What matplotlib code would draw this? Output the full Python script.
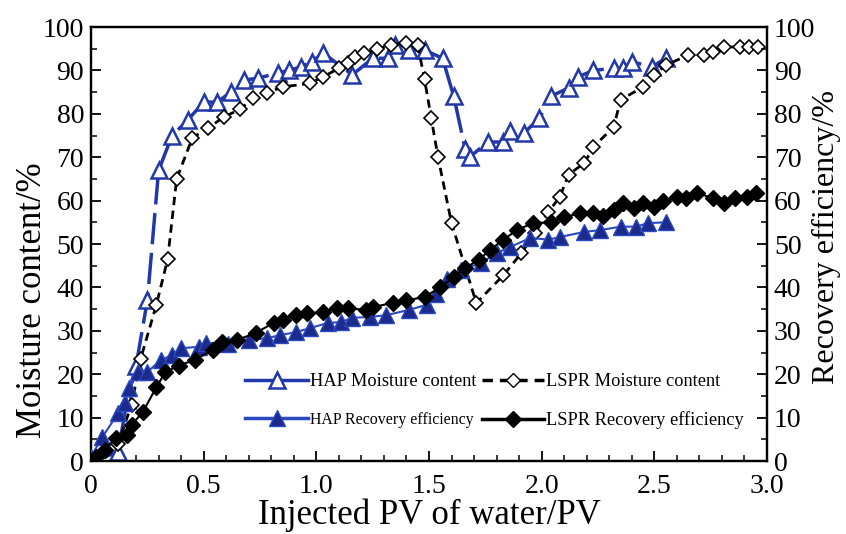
import matplotlib
matplotlib.use('Agg')
import matplotlib.pyplot as plt
from matplotlib.lines import Line2D
from matplotlib.ticker import MultipleLocator

plt.rcParams['font.family'] = ['Liberation Serif', 'DejaVu Serif']

# HAP moisture content (open triangles)
hap_mc_x = [0, 0.12, 0.16, 0.20, 0.25, 0.30, 0.36, 0.43, 0.50, 0.56, 0.62, 0.68, 0.74, 0.83, 0.88,
            0.93, 0.98, 1.03, 1.16, 1.25, 1.32, 1.35, 1.41, 1.48, 1.56, 1.61, 1.66, 1.68, 1.76, 1.83,
            1.86, 1.92, 1.99, 2.04, 2.12, 2.16, 2.23, 2.32, 2.36, 2.40, 2.49, 2.55]
hap_mc_y = [0, 2, 14, 22, 37, 67, 75, 78.6, 82.7, 82.7, 85, 87.8, 88.2, 89.4, 90,
            90.8, 92, 94, 89, 92.8, 92.8, 95.8, 94.7, 94.7, 92.8, 84, 72, 70, 73.5, 73.5,
            76, 75.5, 79, 84, 86, 88.5, 90, 90.5, 90.5, 92, 90.8, 92.8]

# LSPR moisture content (open diamonds)
lspr_mc_x = [0, 0.12, 0.18, 0.22, 0.29, 0.34, 0.38, 0.45, 0.52, 0.59, 0.66, 0.72, 0.78, 0.85, 0.97,
             1.03, 1.10, 1.14, 1.17, 1.21, 1.27, 1.33, 1.40, 1.45, 1.48, 1.51, 1.54, 1.60, 1.71, 1.83,
             1.91, 1.97, 2.03, 2.08, 2.12, 2.19, 2.23, 2.32, 2.35, 2.45, 2.50, 2.55, 2.65, 2.72, 2.76,
             2.81, 2.88, 2.92, 2.96]
lspr_mc_y = [0, 4, 13, 23.5, 36, 46.5, 65, 74.5, 76.7, 79.3, 81, 83.6, 84.8, 86.2, 87,
             88.5, 90.5, 91.7, 93, 94, 95, 95.8, 96.3, 95.8, 88, 79, 70, 54.8, 36.4, 42.8,
             47.9, 52.5, 57.4, 60.8, 66, 68.7, 72.4, 77, 83.2, 86.2, 89, 91.2, 93.5, 93.5, 94.2,
             95.4, 95.4, 95.4, 95.4]

# HAP recovery efficiency (filled triangles)
hap_re_x = [0, 0.05, 0.12, 0.15, 0.17, 0.21, 0.25, 0.31, 0.36, 0.40, 0.48, 0.51, 0.61, 0.70, 0.78,
            0.84, 0.91, 0.97, 1.05, 1.11, 1.16, 1.24, 1.31, 1.41, 1.49, 1.53, 1.58, 1.64, 1.73, 1.80,
            1.86, 1.95, 2.03, 2.08, 2.19, 2.26, 2.35, 2.42, 2.47, 2.55]
hap_re_y = [1, 5.5, 11, 13.4, 16.8, 20.5, 20.5, 23.3, 24.4, 26, 26.3, 27.2, 27, 27.9, 28.3,
            29, 29.7, 30.6, 31.8, 32, 33, 33.2, 33.6, 34.8, 36, 38.5, 42, 44, 45.6, 47.9,
            49.3, 51.4, 51, 51.6, 52.8, 53.2, 54, 54, 54.8, 55]

# LSPR recovery efficiency (filled diamonds)
lspr_re_x = [0.02, 0.06, 0.11, 0.16, 0.18, 0.23, 0.29, 0.33, 0.39, 0.46, 0.54, 0.58, 0.65, 0.73, 0.81,
             0.85, 0.91, 0.96, 1.03, 1.09, 1.14, 1.22, 1.25, 1.34, 1.40, 1.48, 1.55, 1.61, 1.66, 1.72,
             1.77, 1.83, 1.89, 1.96, 2.04, 2.10, 2.17, 2.23, 2.27, 2.32, 2.36, 2.41, 2.45, 2.50, 2.54,
             2.60, 2.64, 2.69, 2.76, 2.81, 2.86, 2.91, 2.95]
lspr_re_y = [1, 2.5, 5.3, 6, 8.3, 11.3, 17, 20.5, 22, 23.3, 25.6, 27.4, 27.9, 29.5, 31.8,
             32.5, 33.6, 34, 34.3, 35.2, 35.2, 34.8, 35.5, 36.4, 37, 37.8, 40, 42.4, 44.5, 46.3,
             48.6, 51, 53.2, 54.8, 55, 56.2, 57.1, 57.1, 56.5, 57.8, 59.4, 58.3, 59.4, 58.5, 60,
             60.8, 60.6, 61.7, 60.6, 59.4, 60.6, 60.8, 61.7]

x_ticks = [0, 0.5, 1.0, 1.5, 2.0, 2.5, 3.0]
x_tick_labels = ['0', '0.5', '1.0', '1.5', '2.0', '2.5', '3.0']
y_ticks = list(range(0, 101, 10))

hap_open = '#2238a8'
hap_fill = '#1c2a8c'

fig = plt.figure(figsize=(8.46, 5.34), dpi=100)
ax = fig.add_axes([0.1076, 0.1367, 0.799, 0.8127])
ax2 = ax.twinx()

ax.plot(hap_mc_x, hap_mc_y, color=hap_open, lw=2.5, dashes=(9, 2.5), marker='^', ms=11,
        mfc='white', mec=hap_open, mew=1.8, zorder=3)
ax.plot(lspr_mc_x, lspr_mc_y, color='black', lw=2, dashes=(3, 2), marker='D', ms=7.5,
        mfc='white', mec='black', mew=1.2, zorder=4)
ax2.plot(hap_re_x, hap_re_y, color='#2a48c0', lw=1.5, marker='^', ms=11.5,
         mfc=hap_fill, mec='#2a48c0', mew=1, zorder=3)
ax2.plot(lspr_re_x, lspr_re_y, color='black', lw=1.5, marker='D', ms=8,
         mfc='black', mec='black', zorder=4)

for a in (ax, ax2):
    a.set_ylim(0, 100)
    a.set_yticks(y_ticks)
    a.yaxis.set_minor_locator(MultipleLocator(5))
    a.tick_params(axis='both', which='both', direction='in', labelsize=20)
    a.tick_params(which='major', length=7, width=1.3)
    a.tick_params(which='minor', length=4, width=1.1)
    for s in a.spines.values():
        s.set_linewidth(1.6)

ax.set_xlim(0, 3.0)
ax.set_xticks(x_ticks)
ax.set_xticklabels(x_tick_labels)
ax.xaxis.set_minor_locator(MultipleLocator(0.1))
ax.tick_params(axis='x', pad=9)
ax.tick_params(axis='y', pad=5)
ax2.tick_params(axis='y', pad=5)

ax.set_xlabel('Injected PV of water/PV', fontsize=25, labelpad=0)
ax.set_ylabel('Moisture content/%', fontsize=25)
ax2.set_ylabel('Recovery efficiency/%', fontsize=23)
ax.yaxis.set_label_coords(-0.062, 0.37)
ax2.yaxis.set_label_coords(1.067, 0.516)

handles = [
    Line2D([], [], color=hap_open, lw=2.5, marker='^', ms=11, mfc='white', mec=hap_open, mew=1.8),
    Line2D([], [], color='#2a48c0', lw=2.5, marker='^', ms=11, mfc=hap_fill, mec='#2a48c0'),
    Line2D([], [], color='black', lw=2.5, dashes=(3, 2), marker='D', ms=7.5, mfc='white', mec='black'),
    Line2D([], [], color='black', lw=2.5, marker='D', ms=8, mfc='black', mec='black'),
]
labels = ['HAP Moisture content', 'HAP Recovery efficiency',
          'LSPR Moisture content', 'LSPR Recovery efficiency']
leg = ax2.legend(handles, labels, ncol=2, frameon=False, fontsize=13.2,
                 handlelength=3.4, handletextpad=0.1, columnspacing=0.3,
                 labelspacing=1.15, loc='lower left', bbox_to_anchor=(0.204, 0.035))
leg.get_texts()[1].set_fontsize(11.4)

fig.savefig('out.png', dpi=100)
